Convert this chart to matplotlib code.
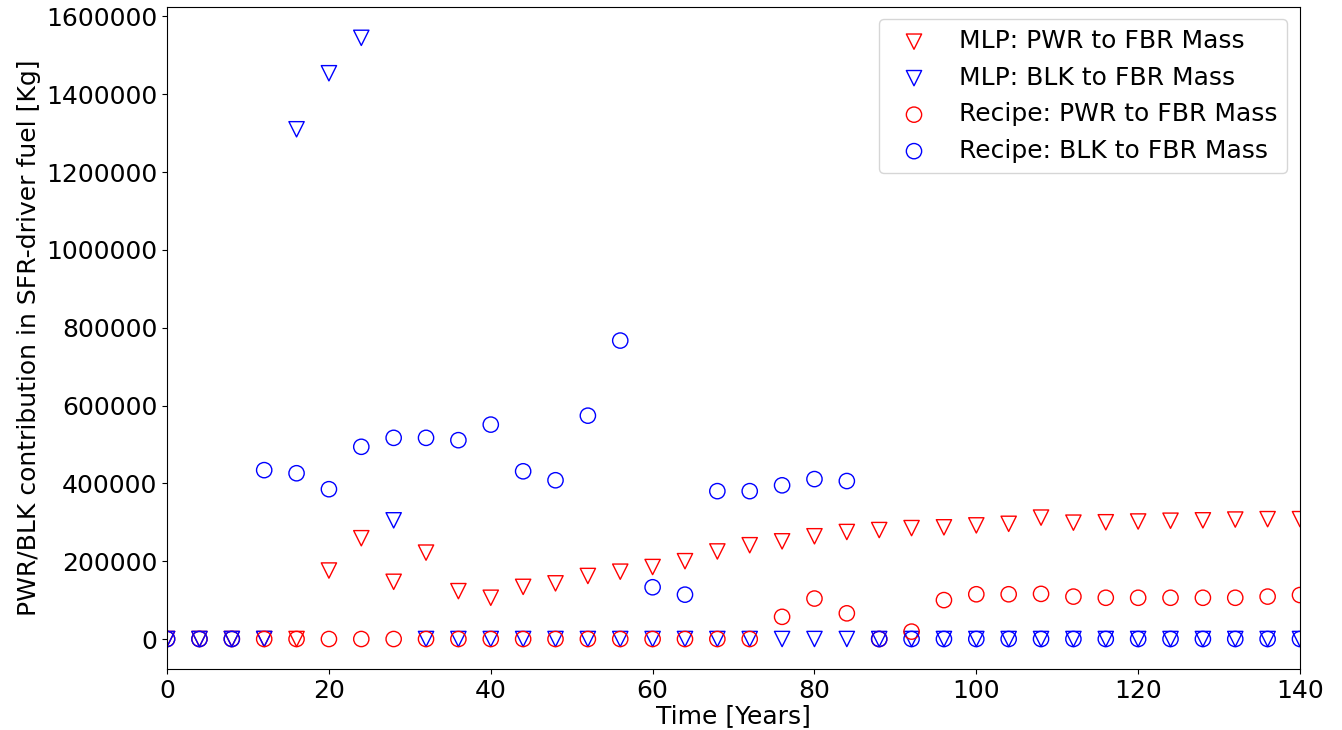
import numpy as np
import matplotlib
matplotlib.use("Agg")
import matplotlib.pyplot as plt

# Time axis: every 4 years
years = np.arange(0, 141, 4)

mlp_pwr = [0, 0, 0, 0, 0, 176000, 259000, 147000, 222000, 123000,
           106000, 134000, 143000, 162000, 173000, 185000, 200000, 225000,
           241000, 251000, 264000, 275000, 280000, 285000, 287000, 292000,
           296000, 312000, 299000, 300000, 302000, 304000, 305000, 307000,
           308000, 308000]

mlp_blk = [0, 0, 0, 0, 1310000, 1454000, 1545000, 305000, 0, 0,
           0, 0, 0, 0, 0, 0, 0, 0, 0, 0, 0, 0, 0, 0, 0, 0, 0, 0, 0, 0,
           0, 0, 0, 0, 0, 0]

recipe_pwr = [0, 0, 0, 0, 0, 0, 0, 0, 0, 0, 0, 0, 0, 0, 0, 0, 0, 0, 0,
              57000, 104000, 66000, 0, 19000, 100000, 115000, 115000,
              116000, 109000, 106000, 106000, 106000, 106000, 106000,
              109000, 113000]

recipe_blk = [0, 0, 0, 434000, 426000, 385000, 494000, 517000, 517000,
              511000, 551000, 431000, 408000, 574000, 767000, 133000,
              114000, 380000, 380000, 395000, 411000, 406000, 0, 0, 0, 0,
              0, 0, 0, 0, 0, 0, 0, 0, 0, 0]

fig = plt.figure(figsize=(13.42, 7.30), dpi=100)
ax = fig.add_axes([0.1245, 0.0836, 0.8442, 0.9072])

ms = 121
ax.scatter(years, mlp_pwr, s=ms, marker="v", facecolors="none",
           edgecolors="red", linewidths=1, label="MLP: PWR to FBR Mass")
ax.scatter(years, mlp_blk, s=ms, marker="v", facecolors="none",
           edgecolors="blue", linewidths=1, label="MLP: BLK to FBR Mass")
ax.scatter(years, recipe_pwr, s=ms, marker="o", facecolors="none",
           edgecolors="red", linewidths=1, label="Recipe: PWR to FBR Mass")
ax.scatter(years, recipe_blk, s=ms, marker="o", facecolors="none",
           edgecolors="blue", linewidths=1, label="Recipe: BLK to FBR Mass")

ax.set_xlim(0, 140)
ax.set_ylim(-77000, 1625000)
ax.ticklabel_format(axis="y", style="plain", useOffset=False)
ax.tick_params(labelsize=18)
ax.set_xlabel("Time [Years]", fontsize=18, labelpad=1)
ax.set_ylabel("PWR/BLK contribution in SFR-driver fuel [Kg]", fontsize=18)

ax.legend(loc="upper right", fontsize=18, markerscale=1.0,
          scatterpoints=1, handletextpad=0.8, labelspacing=0.5)

fig.savefig("out.png", dpi=100)
